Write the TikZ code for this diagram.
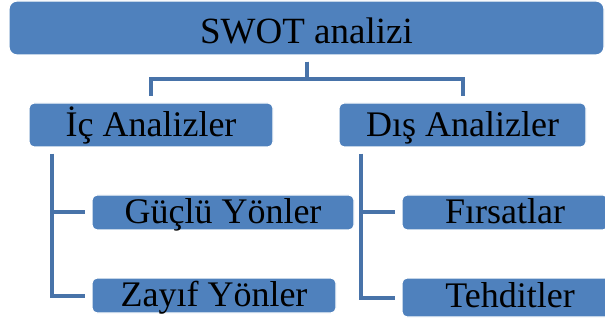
\documentclass[tikz,border=0pt]{standalone}
\usepackage{fontspec}
\setmainfont{Liberation Serif}
\definecolor{boxblue}{HTML}{4F81BD}
\definecolor{lineblue}{HTML}{4873A9}
\begin{document}
\begin{tikzpicture}[x=1pt,y=-1pt,
  box/.style={fill=boxblue, draw=white, line width=1.2pt, rounded corners=5pt,
    inner sep=0pt, text depth=0pt, font=\fontsize{36}{40}\selectfont},
  conn/.style={draw=lineblue, line width=4pt}]
\useasboundingbox (0,0) rectangle (605,323);
\clip (0,0) rectangle (605,323);
\node[box, rounded corners=8pt, minimum width=595pt, minimum height=54pt, text height=32pt,
  font=\fontsize{37}{42}\selectfont] (top) at (306.5,28) {SWOT analizi};
\node[box, minimum width=244pt, minimum height=44pt, text height=24pt] (ic) at (151,125) {İç Analizler};
\node[box, minimum width=247pt, minimum height=44pt, text height=24pt] (dis) at (462.5,125) {Dış Analizler};
\node[box, minimum width=262pt, minimum height=35pt, text height=21pt] (guclu) at (223,212.5) {Güçlü Yönler};
\node[box, minimum width=244pt, minimum height=35pt, text height=21pt] (zayif) at (214,295.5) {Zayıf Yönler};
\node[box, minimum width=206pt, minimum height=35pt, text height=21pt] (firsat) at (505,212.5) {Fırsatlar};
\node[box, minimum width=216pt, minimum height=39pt, text height=19pt] (tehdit) at (510,297.5) {Tehditler};
\coordinate (j1) at (307,79);
\coordinate (lx) at (52,0);
\coordinate (rx) at (361,0);
\draw[conn, shorten <=6pt, shorten >=6pt] (top.south) -- (top.south |- j1) -| (ic.north);
\draw[conn, shorten <=6pt, shorten >=6pt] (top.south) -- (top.south |- j1) -| (dis.north);
\draw[conn, shorten <=6pt, shorten >=6pt] (ic.south -| lx) |- (zayif.west);
\draw[conn, shorten >=6pt] (guclu.west -| lx) -- (guclu.west);
\draw[conn, shorten <=6pt, shorten >=6pt] (dis.south -| rx) |- (tehdit.west);
\draw[conn, shorten >=6pt] (firsat.west -| rx) -- (firsat.west);
\end{tikzpicture}
\end{document}
